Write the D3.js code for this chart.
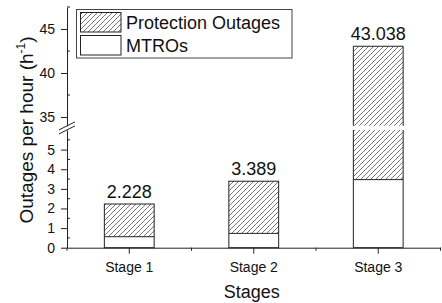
<!DOCTYPE html>
<html><head><meta charset="utf-8">
<script src="https://cdn.jsdelivr.net/npm/d3@7"></script>
<style>
body{margin:0;background:#fff}
svg{display:block}
text{font-family:"Liberation Sans",Arial,Helvetica,sans-serif;fill:#111}
</style>
</head><body>
<svg id="c" width="442" height="303"></svg>
<script>
// ---- data ----
const stages = ["Stage 1", "Stage 2", "Stage 3"];
const mtros = [0.56, 0.73, 3.47];
const totals = [2.228, 3.389, 43.038];
const totalLabels = ["2.228", "3.389", "43.038"];
const lowerTicks = [0, 1, 2, 3, 4, 5];
const lowerMinor = [0.5, 1.5, 2.5, 3.5, 4.5, 5.5];
const upperTicks = [35, 40, 45];
const upperMinor = [37.5, 42.5, 47.5];
const seriesNames = ["Protection Outages", "MTROs"];
const xTitle = "Stages";

// ---- layout ----
const svg = d3.select("#c");
const axisColor = "#222";
const x0 = 67, x1 = 440.5, yBase = 247.7;
const lowDomain = [0, 6], highDomain = [34, 47.5];

const x = d3.scaleBand().domain(stages).range([x0, x1]).padding(0);
const yLow = d3.scaleLinear().domain(lowDomain).range([yBase, 130]);
const yHigh = d3.scaleLinear().domain(highDomain).range([125.8, 7]);
const barW = x.bandwidth() * 0.4;

// hatch pattern
const defs = svg.append("defs");
const pat = defs.append("pattern").attr("id", "hatch").attr("patternUnits", "userSpaceOnUse")
  .attr("width", 5).attr("height", 5);
pat.append("rect").attr("width", 5).attr("height", 5).attr("fill", "#fff");
pat.append("path").attr("d", "M0,5 L5,0 M-1,1 L1,-1 M4,6 L6,4")
  .attr("stroke", "#555").attr("stroke-width", 0.8);

// ---- bars ----
const data = stages.map((s, i) => ({ s, m: mtros[i], t: totals[i], lab: totalLabels[i] }));
const g = svg.append("g");
data.forEach(d => {
  const L = x(d.s) + (x.bandwidth() - barW) / 2, R = L + barW;
  g.append("rect").attr("x", L).attr("y", yLow(d.m)).attr("width", barW)
    .attr("height", yLow(0) - yLow(d.m)).attr("fill", "#fff");
  const topLow = Math.min(d.t, lowDomain[1]);
  g.append("rect").attr("x", L).attr("y", yLow(topLow)).attr("width", barW)
    .attr("height", yLow(d.m) - yLow(topLow)).attr("fill", "url(#hatch)");
  let labelY;
  if (d.t > lowDomain[1]) {
    g.append("rect").attr("x", L).attr("y", yHigh(d.t)).attr("width", barW)
      .attr("height", yHigh(highDomain[0]) - yHigh(d.t)).attr("fill", "url(#hatch)");
    g.append("path").attr("d", `M${L},${yLow(lowDomain[1])}V${yLow(0)}H${R}V${yLow(lowDomain[1])}`)
      .attr("fill", "none").attr("stroke", axisColor).attr("stroke-width", 1);
    g.append("path").attr("d", `M${L},${yHigh(highDomain[0])}V${yHigh(d.t)}H${R}V${yHigh(highDomain[0])}`)
      .attr("fill", "none").attr("stroke", axisColor).attr("stroke-width", 1);
    labelY = yHigh(d.t) - 6.5;
  } else {
    g.append("rect").attr("x", L).attr("y", yLow(d.t)).attr("width", barW)
      .attr("height", yLow(0) - yLow(d.t)).attr("fill", "none")
      .attr("stroke", axisColor).attr("stroke-width", 1);
    labelY = yLow(d.t) - 6;
  }
  g.append("line").attr("x1", L).attr("x2", R).attr("y1", yLow(d.m)).attr("y2", yLow(d.m))
    .attr("stroke", axisColor).attr("stroke-width", 1);
  g.append("text").attr("x", (L + R) / 2).attr("y", labelY).attr("text-anchor", "middle")
    .attr("font-size", 18).text(d.lab);
});

// ---- axes ----
function styleAxis(sel) {
  sel.selectAll("path,line").attr("stroke", axisColor).attr("stroke-width", 1);
  sel.selectAll("text").attr("font-size", 14).attr("fill", "#111")
    .attr("font-family", '"Liberation Sans",Arial,sans-serif');
}
const fmt = d3.format("d");
const ax = svg.append("g").attr("transform", `translate(${x0},0)`);
const axL = ax.append("g").call(d3.axisLeft(yLow).tickValues(lowerTicks).tickFormat(fmt)
  .tickSize(6).tickSizeOuter(0).tickPadding(6));
const axH = ax.append("g").call(d3.axisLeft(yHigh).tickValues(upperTicks).tickFormat(fmt)
  .tickSize(6).tickSizeOuter(0).tickPadding(6));
styleAxis(axL); styleAxis(axH);
ax.selectAll(".minL").data(lowerMinor).join("line")
  .attr("x1", 0).attr("x2", 3).attr("y1", d => yLow(d)).attr("y2", d => yLow(d))
  .attr("stroke", axisColor);
ax.selectAll(".minH").data(upperMinor).join("line")
  .attr("x1", 0).attr("x2", 3).attr("y1", d => yHigh(d)).attr("y2", d => yHigh(d))
  .attr("stroke", axisColor);
// break marks
const bc = (yHigh(highDomain[0]) + yLow(lowDomain[1])) / 2;
[-2, 2].forEach(o => {
  ax.append("line").attr("x1", -8).attr("x2", 8)
    .attr("y1", bc + o + 4).attr("y2", bc + o - 4)
    .attr("stroke", axisColor).attr("stroke-width", 1);
});

const axB = svg.append("g").attr("transform", `translate(0,${yBase})`)
  .call(d3.axisBottom(x).tickSize(6).tickSizeOuter(0).tickPadding(8));
styleAxis(axB);
const bounds = [x0, ...stages.map(s => x(s) + x.bandwidth())];
axB.selectAll(".minB").data(bounds).join("line")
  .attr("x1", d => d).attr("x2", d => d).attr("y1", 0).attr("y2", 3).attr("stroke", axisColor);

// titles
svg.append("text").attr("x", (x0 + x1) / 2 - 2).attr("y", 298).attr("text-anchor", "middle")
  .attr("font-size", 18).text(xTitle);
const yt = svg.append("text").attr("transform", "translate(33,130) rotate(-90)")
  .attr("text-anchor", "middle").attr("font-size", 19);
yt.append("tspan").text("Outages per hour (h");
yt.append("tspan").attr("dy", -8).attr("font-size", 12).text("-1");
yt.append("tspan").attr("dy", 8).text(")");

// ---- legend ----
const lg = svg.append("g");
lg.append("rect").attr("x", 76.5).attr("y", 9.5).attr("width", 215.5).attr("height", 48.5)
  .attr("fill", "#fff").attr("stroke", "#444").attr("stroke-width", 1);
const fills = ["url(#hatch)", "#fff"];
seriesNames.forEach((n, i) => {
  const yy = 12.5 + i * 23;
  lg.append("rect").attr("x", 80.5).attr("y", yy).attr("width", 40.5).attr("height", 19.5)
    .attr("fill", fills[i]).attr("stroke", axisColor).attr("stroke-width", 1);
  lg.append("text").attr("x", 126).attr("y", yy + 16).attr("font-size", 18).text(n);
});
</script>
</body></html>
